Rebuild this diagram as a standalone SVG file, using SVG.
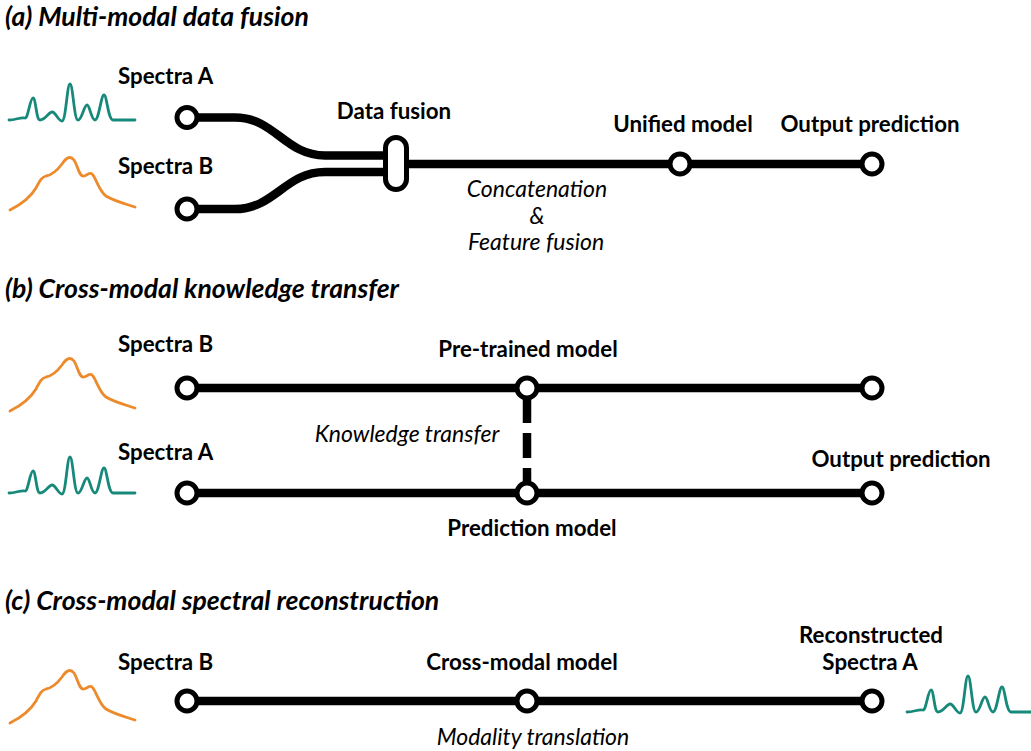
<svg xmlns="http://www.w3.org/2000/svg" width="1031" height="751" viewBox="0 0 1031 751">
<style>
.title{font-family:Lato,"Liberation Sans",sans-serif;font-weight:bold;font-style:italic;font-size:26.6px;fill:#000}
.lbl{font-family:Lato,"Liberation Sans",sans-serif;font-weight:bold;font-size:22.3px;fill:#000}
.it{font-family:Lato,"Liberation Sans",sans-serif;font-style:italic;font-size:23px;fill:#000}
.mid{text-anchor:middle}
.edge{fill:none;stroke:#000;stroke-width:8.5}
.node{fill:#fff;stroke:#000;stroke-width:5}
.teal{fill:none;stroke:#17897a;stroke-width:2.8;stroke-linecap:round;stroke-linejoin:round}
.orange{fill:none;stroke:#ec8a2c;stroke-width:2.8;stroke-linecap:round;stroke-linejoin:round}
</style>
<defs>
<path id="specA" d="M9,120 C16,120 20,117 25,118 C28,119 30,98 33,98 C36,98 36,120 40,120 C45,120 49,112 52,112 C56,112 58,121 62,121 C66,121 67,84 70,84 C73,84 74,120 78,120 C82,120 84,105 87,105 C90,105 91,120 95,120 C99,120 101,95 104,95 C107,95 108,120 113,120 L135,120"/>
<path id="specB" d="M10,210 C20,205 30,198 36,188 C40,180 42,177 46,176 C52,175 56,172 62,164 C66,158 70,155 74,160 C78,166 79,177 84,176 C88,175 90,171 93,175 C97,181 100,192 106,196 C114,201 126,204 135,207"/>
</defs>

<text class="title" x="5" y="26">(a) Multi-modal data fusion</text>
<text class="title" x="5" y="298">(b) Cross-modal knowledge transfer</text>
<text class="title" x="5" y="610">(c) Cross-modal spectral reconstruction</text>

<g id="spectra">
<use href="#specA" class="teal"/>
<use href="#specB" class="orange"/>
<use href="#specB" class="orange" transform="translate(0,201)"/>
<use href="#specA" class="teal" transform="translate(0,373)"/>
<use href="#specB" class="orange" transform="translate(0,513)"/>
<use href="#specA" class="teal" transform="translate(898,592)"/>
</g>

<g id="connectors">
<path class="edge" d="M187,117.5 H235 C275,117.5 285,155.5 325,155.5 H392"/>
<path class="edge" d="M187,209 H235 C275,209 285,172 325,172 H392"/>
<path class="edge" d="M400,164 H872"/>
<path class="edge" d="M187,388 H872"/>
<path class="edge" d="M187,493 H872"/>
<path class="edge" d="M527,398 V483" stroke-dasharray="25 10"/>
<path class="edge" d="M187,701 H872"/>
</g>

<g id="a-spectraA"><circle class="node" cx="187" cy="117.5" r="10"/><text class="lbl" x="118" y="84">Spectra A</text></g>
<g id="a-spectraB"><circle class="node" cx="187" cy="209" r="10"/><text class="lbl" x="118" y="174">Spectra B</text></g>
<g id="a-fusion"><rect class="node" x="385.5" y="137.5" width="21" height="52" rx="10.5"/><text class="lbl mid" x="394" y="119">Data fusion</text></g>
<g id="a-unified"><circle class="node" cx="680" cy="164" r="10"/><text class="lbl mid" x="683" y="132">Unified model</text></g>
<g id="a-output"><circle class="node" cx="872" cy="164" r="10"/><text class="lbl mid" x="870" y="132">Output prediction</text></g>
<g id="a-note">
<text class="it mid" x="537" y="197">Concatenation</text>
<text class="it mid" x="537" y="224">&amp;</text>
<text class="it mid" x="536" y="250">Feature fusion</text>
</g>

<g id="b-spectraB"><circle class="node" cx="187" cy="388" r="10"/><text class="lbl" x="118" y="352">Spectra B</text></g>
<g id="b-pretrained"><circle class="node" cx="527" cy="388" r="10"/><text class="lbl mid" x="528" y="357">Pre-trained model</text></g>
<g id="b-topend"><circle class="node" cx="872" cy="388" r="10"/></g>
<g id="b-spectraA"><circle class="node" cx="187" cy="493" r="10"/><text class="lbl" x="118" y="460">Spectra A</text></g>
<g id="b-prediction"><circle class="node" cx="527" cy="493" r="10"/><text class="lbl mid" x="532" y="536">Prediction model</text></g>
<g id="b-output"><circle class="node" cx="872" cy="493" r="10"/><text class="lbl mid" x="901" y="467">Output prediction</text></g>
<g id="b-note"><text class="it mid" x="407" y="442">Knowledge transfer</text></g>

<g id="c-spectraB"><circle class="node" cx="187" cy="701" r="10"/><text class="lbl" x="118" y="670">Spectra B</text></g>
<g id="c-model"><circle class="node" cx="527" cy="701" r="10"/><text class="lbl mid" x="522" y="670">Cross-modal model</text></g>
<g id="c-recon"><circle class="node" cx="872" cy="701" r="10"/><text class="lbl mid" x="871" y="643">Reconstructed</text><text class="lbl mid" x="870" y="670">Spectra A</text></g>
<g id="c-note"><text class="it mid" x="533" y="745">Modality translation</text></g>
</svg>
